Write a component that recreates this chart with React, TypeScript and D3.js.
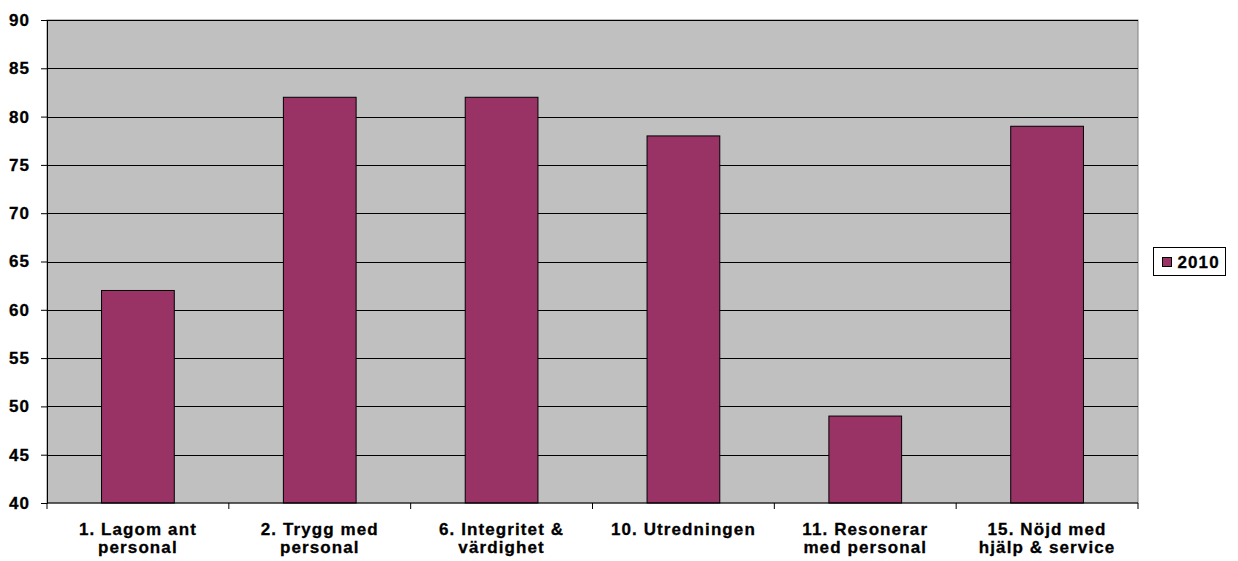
import React, { useEffect, useRef } from "react";
import * as d3 from "d3";

const categories = [
  ["1. Lagom ant", "personal"],
  ["2. Trygg med", "personal"],
  ["6. Integritet &", "värdighet"],
  ["10. Utredningen"],
  ["11. Resonerar", "med personal"],
  ["15. Nöjd med", "hjälp & service"],
];
const values2010 = [62, 82, 82, 78, 49, 79];
const yTicks = [40, 45, 50, 55, 60, 65, 70, 75, 80, 85, 90];
const seriesName = "2010";

const App = () => {
  const svgRef = useRef<SVGSVGElement>(null);

  useEffect(() => {
    const width = 1238;
    const height = 561;
    const margin = { top: 20, right: 100, bottom: 58, left: 47 };
    const innerWidth = width - margin.left - margin.right;
    const innerHeight = height - margin.top - margin.bottom;
    const font = "'Liberation Sans', Arial, sans-serif";
    const fontSize = 17;
    const spacing = 1.1;

    const svg = d3.select(svgRef.current);
    svg.selectAll("*").remove();

    const g = svg
      .append("g")
      .attr("transform", `translate(${margin.left},${margin.top})`);

    const keys = categories.map((c) => c.join(" "));
    const xScale = d3.scaleBand().domain(keys).range([0, innerWidth]).paddingInner(0).paddingOuter(0);
    const yScale = d3.scaleLinear().domain([40, 90]).range([innerHeight, 0]);

    const styleText = (sel: any) =>
      sel
        .attr("font-family", font)
        .attr("font-size", fontSize)
        .attr("font-weight", "bold")
        .attr("letter-spacing", spacing)
        .attr("fill", "#000")
        .attr("stroke", "#000")
        .attr("stroke-width", 0.3);

    // plot background
    g.append("rect")
      .attr("width", innerWidth)
      .attr("height", innerHeight)
      .attr("fill", "#c0c0c0")
      .attr("stroke", "#808080")
      .attr("stroke-width", 1);

    // gridlines
    g.selectAll(".grid")
      .data(yTicks.slice(1))
      .enter()
      .append("line")
      .attr("x1", 0)
      .attr("x2", innerWidth)
      .attr("y1", (d) => Math.round(yScale(d)) + 0.5)
      .attr("y2", (d) => Math.round(yScale(d)) + 0.5)
      .attr("stroke", "#000")
      .attr("stroke-width", 1);

    // bars (gap width 150%)
    const barW = xScale.bandwidth() * 0.4;
    g.selectAll(".bar")
      .data(values2010)
      .enter()
      .append("rect")
      .attr("x", (d, i) => xScale(keys[i])! + (xScale.bandwidth() - barW) / 2)
      .attr("y", (d) => yScale(d))
      .attr("width", barW)
      .attr("height", (d) => innerHeight - yScale(d))
      .attr("fill", "#993366")
      .attr("stroke", "#000")
      .attr("stroke-width", 1);

    // y axis
    const yAxis = d3.axisLeft(yScale).tickValues(yTicks).tickSize(6).tickPadding(11);
    const yg = g.append("g").call(yAxis);
    yg.select(".domain").attr("stroke", "#000");
    styleText(yg.selectAll("text"));

    // x axis
    const xTicks = keys.map((k) => xScale(k)!).concat([innerWidth]);
    const xg = g.append("g").attr("transform", `translate(0,${innerHeight})`);
    xg.append("line")
      .attr("x1", 0)
      .attr("x2", innerWidth)
      .attr("stroke", "#000");
    xg.selectAll(".xt")
      .data(xTicks)
      .enter()
      .append("line")
      .attr("x1", (d) => d)
      .attr("x2", (d) => d)
      .attr("y1", 0)
      .attr("y2", 6)
      .attr("stroke", "#000");

    const labels = xg
      .selectAll(".xl")
      .data(categories)
      .enter()
      .append("text")
      .attr("x", (d, i) => xScale(keys[i])! + xScale.bandwidth() / 2)
      .attr("y", 32)
      .attr("text-anchor", "middle");
    styleText(labels);
    labels
      .selectAll("tspan")
      .data((d) => d)
      .enter()
      .append("tspan")
      .attr("x", function () {
        return (this as SVGTSpanElement).parentElement!.getAttribute("x");
      })
      .attr("dy", (d, i) => (i === 0 ? 0 : 18))
      .text((d) => d);

    // legend
    const lg = svg.append("g").attr("transform", "translate(1153.5,247.5)");
    lg.append("rect")
      .attr("width", 72)
      .attr("height", 28)
      .attr("fill", "#fff")
      .attr("stroke", "#000");
    lg.append("rect")
      .attr("x", 9)
      .attr("y", 10)
      .attr("width", 9)
      .attr("height", 9)
      .attr("fill", "#993366")
      .attr("stroke", "#000");
    styleText(
      lg.append("text")
        .attr("x", 24)
        .attr("y", 20)
        .text(seriesName)
    );
  }, []);

  return (
    <svg
      ref={svgRef}
      width={1238}
      height={561}
      style={{ position: "absolute", left: 0, top: 0, background: "#fff" }}
    ></svg>
  );
};

export default App;
